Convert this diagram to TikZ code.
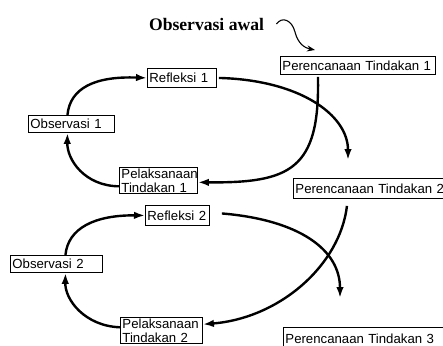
\documentclass[tikz,border=0pt]{standalone}
\usepackage{fontspec}
\usetikzlibrary{arrows.meta}
\newfontfamily\boxfont{Liberation Sans}
\newfontfamily\titlefont{Liberation Serif}

\begin{document}
\begin{tikzpicture}[x=1pt,y=-1pt,
  stagebox/.style={draw, line width=0.9pt, anchor=north west, align=left,
    inner xsep=2pt, inner ysep=1pt, text width=#1,
    font=\boxfont\fontsize{13.2}{14}\selectfont},
  cycle/.style={line width=2.4pt, -{Latex[length=11pt,width=7.5pt]}}]

  % Frame of the picture (pixel grid, y downwards)
  \clip (0,0) rectangle (443,345);
  \fill[white] (0,0) rectangle (443,345);

  % Start
  \node[font=\titlefont\fontsize{17.6}{20}\selectfont\bfseries] (awal) at (206.5,24) {Observasi awal};

  % First cycle
  \node[stagebox=151pt, minimum height=18pt] (plan1) at (280,56) {Perencanaan Tindakan 1};
  \node[stagebox=65pt, minimum height=19pt] (ref1) at (147,68) {Refleksi 1};
  \node[stagebox=82pt, minimum height=17pt] (obs1) at (28,115) {Observasi 1};
  \node[stagebox=74pt] (act1) at (119,167) {Pelaksanaan\\Tindakan 1};

  % Second cycle
  \node[stagebox=155pt, minimum height=20pt] (plan2) at (293,178) {Perencanaan Tindakan 2};
  \node[stagebox=60pt, minimum height=20pt] (ref2) at (145,205) {Refleksi 2};
  \node[stagebox=88pt, minimum height=17pt] (obs2) at (10,255) {Observasi 2};
  \node[stagebox=78pt] (act2) at (120,317) {Pelaksanaan\\Tindakan 2};

  % Third plan (cut off at the bottom)
  \node[stagebox=158pt, minimum height=22pt] (plan3) at (283,327) {Perencanaan Tindakan 3};

  % Free ends of the open arrows
  \coordinate (tip0) at ([xshift=35pt,yshift=6pt]plan1.north west);
  \coordinate (tip1) at (348,160);
  \coordinate (tip2) at (340,298);

  % Squiggle from the start
  \draw[line width=1.1pt, -{Stealth[length=8pt,width=6pt]}]
    ([xshift=9pt]awal.east) .. controls (282,16) and (292,20) .. (295,32)
    .. controls (298,44) and (305,48) .. (tip0);

  % Arrows of the first cycle
  \draw[cycle] ([xshift=-4pt]obs1.north) .. controls (70,88) and (95,76) .. (ref1.west);
  \draw[cycle] ([xshift=2pt]ref1.east) .. controls (300,80) and (348,115) .. (tip1);
  \draw[cycle] ([xshift=-40pt,yshift=-2pt]plan1.south) .. controls (320,170) and (290,183) .. ([yshift=-2pt]act1.east);
  \draw[cycle] ([yshift=-6pt]act1.west) .. controls (85,186) and (67,160) .. ([xshift=-4pt]obs1.south);

  % Arrows of the second cycle
  \draw[cycle] ([xshift=9pt]obs2.north) .. controls (68,228) and (95,215) .. (ref2.west);
  \draw[cycle] ([xshift=12pt,yshift=2pt]ref2.east) .. controls (300,220) and (340,250) .. (tip2);
  \draw[cycle] ([xshift=-26pt,yshift=-7pt]plan2.south) .. controls (340,265) and (280,318) .. ([yshift=6pt]act2.east);
  \draw[cycle] ([yshift=3pt]act2.west) .. controls (85,326) and (65,300) .. ([xshift=9pt]obs2.south);

\end{tikzpicture}
\end{document}
